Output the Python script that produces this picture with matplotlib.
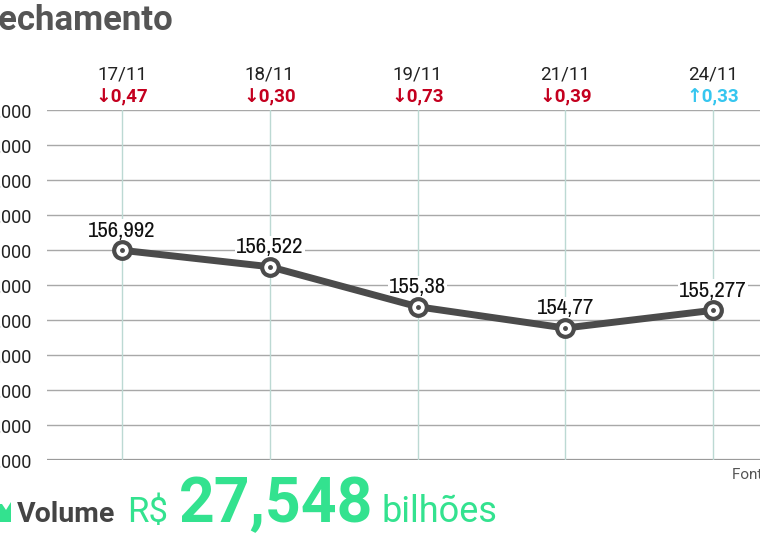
import matplotlib.pyplot as plt
from matplotlib import font_manager
from matplotlib.patches import Polygon

# Fechamento do Ibovespa (mil pontos)
dates = ['17/11', '18/11', '19/11', '21/11', '24/11']
closes = [156.992, 156.522, 155.38, 154.77, 155.277]
close_labels = ['156,992', '156,522', '155,38', '154,77', '155,277']
changes = ['0,47', '0,30', '0,73', '0,39', '0,33']
directions = ['down', 'down', 'down', 'down', 'up']
yticks = [151, 152, 153, 154, 155, 156, 157, 158, 159, 160, 161]
ytick_labels = ['%d,000' % v for v in yticks]
volume = '27,548'

# look for a narrow face for the point labels
narrow_family, narrow_stretch, narrow_size = 'Roboto', 'normal', 14
for f in font_manager.fontManager.ttflist:
    if 'Narrow' in f.name:
        narrow_family, narrow_stretch, narrow_size = f.name, 'normal', 16.5
        break
    if f.name == 'DejaVu Sans' and f.stretch in ('condensed', 'semi-condensed', 600, 700):
        narrow_family, narrow_stretch, narrow_size = 'DejaVu Sans', 'condensed', 16.5
main = ['Roboto', 'DejaVu Sans']

W, H = 760, 541
fig = plt.figure(figsize=(W / 100, H / 100), dpi=100)
ax = fig.add_axes([47 / W, 1 - 460 / H, 1 - 47 / W, 350 / H])

x = list(range(len(dates)))
ax.set_xlim(-75 / 147.75, 4 + 47 / 147.75)
ax.set_ylim(151, 161)

for s in ax.spines.values():
    s.set_visible(False)

for v in yticks:
    if v == 151:
        ax.axhline(v, color='#9a9a9a', lw=1.6, zorder=1)
    else:
        ax.axhline(v, color='#a8a8a8', lw=1.0, zorder=1)
for xi in x:
    ax.axvline(xi, color='#bcd9d3', lw=1.0, zorder=1)

ax.set_xticks([])
ax.set_yticks(yticks)
ax.set_yticklabels(ytick_labels, family=main, fontsize=13, color='#222222')
ax.tick_params(axis='y', length=0, pad=11)

ax.plot(x, closes, color='#4b4b4b', lw=5, zorder=3, solid_capstyle='round')
ax.plot(x, closes, ls='none', marker='o', ms=12, mfc='white', mec='#4b4b4b',
        mew=3, zorder=4)
ax.plot(x, closes, ls='none', marker='o', ms=2.5, mfc='#4b4b4b', mec='#4b4b4b',
        zorder=5)

for xi, yv, lab in zip(x, closes, close_labels):
    ax.annotate(lab, (xi, yv), xytext=(0, 7), textcoords='offset points',
                ha='center', va='bottom', family=narrow_family,
                fontstretch=narrow_stretch, fontsize=narrow_size,
                color='#111111', zorder=2,
                bbox=dict(boxstyle='square,pad=0.05', fc='white', ec='none'))

tr = ax.get_xaxis_transform()
for xi, d, c, dr in zip(x, dates, changes, directions):
    ax.text(xi, 1.1, d, transform=tr, ha='center', va='center',
            family=main, fontsize=13.5, color='#222222')
    arrow = '\u2193' if dr == 'down' else '\u2191'
    col = '#c4001f' if dr == 'down' else '#36c6ef'
    ax.text(xi, 1.037, arrow + c, transform=tr, ha='center', va='center',
            family=main, fontsize=13.5, fontweight='bold', color=col)

# title (cut off at the left like the original)
fig.text(-20 / W, 1 - 30 / H, 'Fechamento', family=main, fontsize=25,
         fontweight='bold', color='#555555', ha='left', va='baseline')

fig.text(732 / W, 1 - 479 / H, 'Fonte: B3', family=main, fontsize=11,
         color='#555555', ha='left', va='baseline')

# volume line
green = '#33e28f'
icon = Polygon([(-4 / W, 1 - 522 / H), (11 / W, 1 - 522 / H), (11 / W, 1 - 502 / H),
                (6 / W, 1 - 510 / H), (2 / W, 1 - 504 / H), (-4 / W, 1 - 504 / H)],
               closed=True, transform=fig.transFigure, fc=green, ec='none')
fig.patches.append(icon)
base = 1 - 522 / H
fig.text(17 / W, base, 'Volume', family=main, fontsize=20.5, fontweight='bold',
         color='#444444', ha='left', va='baseline')
fig.text(127 / W, base, 'R$', family=main, fontsize=25,
         color=green, ha='left', va='baseline')
fig.text(179 / W, base, volume, family=main, fontsize=45, fontweight='bold',
         color=green, ha='left', va='baseline')
fig.text(382 / W, base, 'bilhões', family=main, fontsize=26,
         color=green, ha='left', va='baseline')

fig.savefig('out.png', dpi=100)
